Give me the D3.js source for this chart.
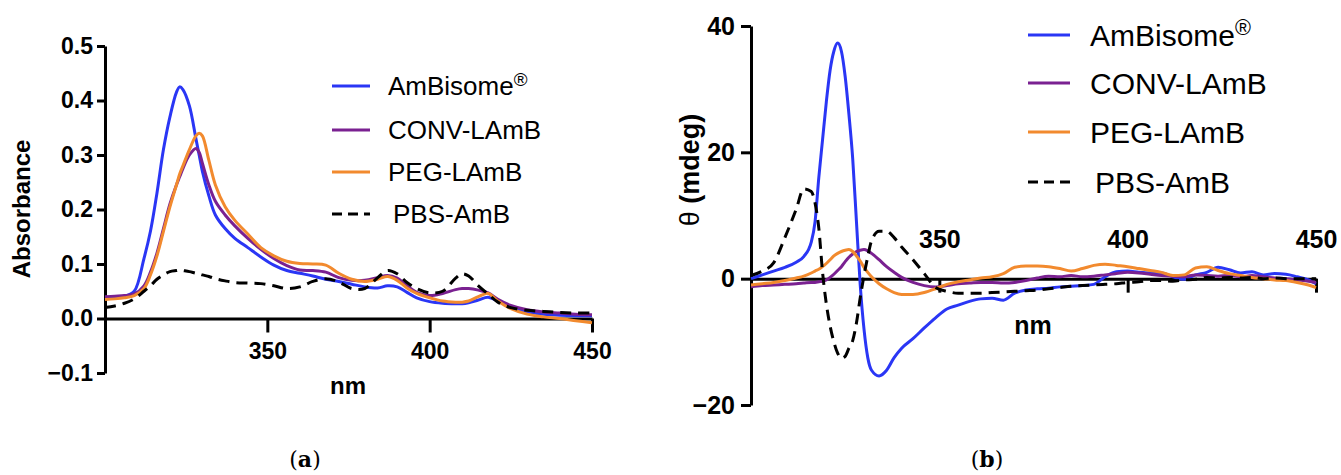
<!DOCTYPE html>
<html>
<head>
<meta charset="utf-8">
<script src="https://cdn.jsdelivr.net/npm/d3@7"></script>
<style>
  body { margin: 0; background: #fff; }
  svg { display: block; font-family: "Liberation Sans", Arial, sans-serif; }
  .axis path, .axis line { stroke: #000; stroke-width: 3; }
  .axis text { font-weight: bold; fill: #000; }
</style>
</head>
<body>
<svg width="1341" height="475"></svg>
<script>
// ---- data: (a) absorbance ----
const absNm = [300,303,306,309,312,314,316,318,320,322,323,324,326,328,329,330,332,334,337,340,344,348,352,356,360,364,368,372,376,380,384,387,390,393,396,400,404,408,410,412,415,418,421,425,430,435,440,445,450];
const absAmBisome = [0.038,0.039,0.041,0.05,0.11,0.16,0.23,0.31,0.37,0.415,0.425,0.42,0.39,0.33,0.30,0.27,0.225,0.19,0.165,0.147,0.13,0.113,0.098,0.088,0.083,0.078,0.072,0.068,0.063,0.058,0.056,0.06,0.058,0.048,0.038,0.031,0.028,0.027,0.027,0.029,0.034,0.039,0.032,0.02,0.012,0.008,0.006,0.005,0.005];
const absConv = [0.04,0.041,0.042,0.045,0.06,0.085,0.12,0.165,0.21,0.245,0.26,0.275,0.3,0.312,0.305,0.285,0.245,0.215,0.19,0.17,0.147,0.127,0.11,0.097,0.089,0.088,0.085,0.075,0.07,0.07,0.075,0.079,0.074,0.06,0.048,0.042,0.046,0.053,0.055,0.055,0.052,0.047,0.035,0.024,0.016,0.012,0.01,0.008,0.007];
const absPeg = [0.035,0.036,0.038,0.042,0.055,0.08,0.115,0.16,0.205,0.245,0.265,0.28,0.31,0.335,0.34,0.335,0.29,0.245,0.205,0.18,0.155,0.13,0.115,0.105,0.101,0.1,0.098,0.083,0.072,0.068,0.072,0.077,0.07,0.056,0.046,0.038,0.032,0.03,0.03,0.032,0.04,0.046,0.032,0.018,0.008,0.003,0.0,-0.004,-0.008];
const absPbs = [0.02,0.023,0.028,0.036,0.05,0.06,0.072,0.08,0.086,0.088,0.089,0.088,0.086,0.083,0.082,0.08,0.077,0.073,0.069,0.066,0.065,0.064,0.06,0.055,0.058,0.068,0.073,0.067,0.055,0.055,0.075,0.088,0.082,0.066,0.055,0.047,0.05,0.074,0.082,0.078,0.06,0.045,0.03,0.02,0.015,0.013,0.011,0.01,0.01];

// ---- data: (b) circular dichroism ----
const cdNm = [300,303,306,309,312,314,316,317,318,319,320,321,322,323,324,325,326,327,328,329,330,331,332,334,336,338,340,343,346,349,352,355,358,361,364,367,370,373,376,379,382,385,388,391,394,397,400,403,406,409,412,415,418,421,424,427,430,433,436,439,442,445,448,450];
const cdAmBisome = [0.0,0.6,1.2,1.8,2.6,3.5,5.8,9,16,22,28,33,36,37.3,36,32,26,19,9,-1,-8,-12.5,-14.5,-15.4,-14.5,-12.5,-11,-9.5,-7.8,-6.2,-4.8,-4.2,-3.6,-3.2,-3.1,-3.4,-2.3,-1.8,-1.6,-1.5,-1.3,-1.2,-1.1,-0.9,0.3,1.1,1.2,1.0,0.9,0.9,0.3,-0.1,0.6,1.0,1.8,1.4,0.9,1.1,0.6,0.8,0.7,0.3,-0.2,-0.8];
const cdConv = [-1.3,-1.1,-1.0,-0.9,-0.8,-0.7,-0.6,-0.6,-0.5,-0.4,-0.2,0.2,0.7,1.3,1.9,2.7,3.4,3.9,4.3,4.5,4.6,4.4,4.0,3.0,1.9,1.0,0.2,-0.6,-1.1,-1.3,-1.1,-0.8,-0.7,-0.6,-0.6,-0.7,-0.6,-0.3,0.1,0.4,0.3,0.5,0.3,0.4,0.6,0.8,1.0,0.9,0.7,0.5,0.4,0.3,0.6,0.5,0.4,0.5,0.3,0.5,0.3,0.1,0.0,-0.2,-0.4,-0.6];
const cdPeg = [-1.0,-0.8,-0.6,-0.3,0.1,0.4,0.9,1.2,1.5,1.9,2.4,3.0,3.6,4.0,4.3,4.5,4.6,4.3,3.6,2.8,1.8,1.0,0.3,-0.8,-1.6,-2.2,-2.5,-2.5,-2.2,-1.6,-0.9,-0.5,-0.2,0.1,0.3,0.8,1.8,2.0,2.0,1.9,1.6,1.2,1.6,2.1,2.3,2.1,1.9,1.6,1.3,1.0,0.5,0.6,1.7,1.9,1.3,0.8,0.5,0.2,0.0,-0.2,-0.3,-0.6,-1.0,-1.4];
const cdPbs = [0.5,1.2,2.5,6.5,11,14.2,13.8,12,8,1,-4,-7.5,-10,-11.8,-12.6,-12.3,-11,-9.8,-7,-3,0.5,3.5,6,7.5,7.5,6.5,5,3,0.8,-1.4,-2.0,-2.3,-2.3,-2.3,-2.2,-2.1,-2.0,-1.9,-1.8,-1.6,-1.4,-1.2,-1.1,-1.0,-0.9,-0.8,-0.6,-0.5,-0.3,-0.3,-0.4,-0.2,-0.1,0.2,0.1,0.2,0.1,0.2,0.0,0.1,0.0,0.0,0.0,0.0];

const seriesNames = ['AmBisome', 'CONV-LAmB', 'PEG-LAmB', 'PBS-AmB'];
const seriesColors = ['#2a36f5', '#7a2191', '#f28a2e', '#000000'];
const absTicksY = [-0.1, 0, 0.1, 0.2, 0.3, 0.4, 0.5];
const cdTicksY = [-20, 0, 20, 40];
const nmTicks = [350, 400, 450];

const svg = d3.select('svg');

function drawPanel(opts) {
    const x = d3.scaleLinear().domain([300, 450]).range(opts.xRange);
    const y = d3.scaleLinear().domain(opts.yDomain).range(opts.yRange);
    const g = svg.append('g');

    // y axis
    g.append('g')
        .attr('class', 'axis')
        .attr('transform', `translate(${opts.xRange[0]},0)`)
        .call(d3.axisLeft(y).tickValues(opts.yTicks).tickSize(opts.yTickSize)
            .tickSizeOuter(0).tickPadding(opts.yPad).tickFormat(opts.yFormat))
        .selectAll('text').style('font-size', opts.tickFont + 'px');

    // x axis on zero line
    const xa = g.append('g')
        .attr('class', 'axis')
        .attr('transform', `translate(0,${y(0)})`)
        .call(d3.axisBottom(x).tickValues(nmTicks).tickSize(14).tickSizeOuter(0)
            .tickFormat(d3.format('d')));
    xa.selectAll('text')
        .style('font-size', opts.tickFont + 'px')
        .attr('y', opts.xLabelY)
        .attr('dy', 0);

    const line = d3.line()
        .x((d, i) => x(opts.nm[i]))
        .y(d => y(d))
        .curve(opts.curve);

    opts.values.forEach((vals, i) => {
        g.append('path')
            .datum(vals)
            .attr('fill', 'none')
            .attr('stroke', seriesColors[i])
            .attr('stroke-width', 3)
            .attr('stroke-dasharray', i === 3 ? '11,7' : null)
            .attr('d', line);
    });

    // legend
    const lg = g.append('g');
    seriesNames.forEach((name, i) => {
        const ly = opts.legY[i];
        lg.append('line')
            .attr('x1', opts.legX[0]).attr('x2', opts.legX[1])
            .attr('y1', ly).attr('y2', ly)
            .attr('stroke', seriesColors[i])
            .attr('stroke-width', 3)
            .attr('stroke-dasharray', i === 3 ? '10,6' : null);
        const t = lg.append('text')
            .attr('x', opts.legTextX + (i === 3 ? 5 : 0))
            .attr('y', ly)
            .attr('dy', '0.36em')
            .style('font-size', opts.legFont + 'px')
            .text(name);
        if (i === 0) {
            t.append('tspan').attr('dy', '-0.5em').style('font-size', '0.72em').text('®');
        }
    });
    return { x, y };
}

drawPanel({
    xRange: [105, 592], yDomain: [-0.1, 0.5], yRange: [373, 46],
    yTicks: absTicksY, yTickSize: 8, yPad: 4, yFormat: d3.format('.1f'),
    tickFont: 23, xLabelY: 40, nm: absNm,
    values: [absAmBisome, absConv, absPeg, absPbs],
    curve: d3.curveCatmullRom,
    legX: [332, 370], legY: [86, 130, 172, 214], legTextX: 388, legFont: 26
});

drawPanel({
    xRange: [751, 1316], yDomain: [-20, 40], yRange: [405, 26],
    yTicks: cdTicksY, yTickSize: 10, yPad: 6, yFormat: d3.format('d'),
    tickFont: 25, xLabelY: -31, nm: cdNm,
    values: [cdAmBisome, cdConv, cdPeg, cdPbs],
    curve: d3.curveMonotoneX,
    legX: [1028, 1070], legY: [35, 83, 132, 182], legTextX: 1090, legFont: 30
});

// axis titles
svg.append('text')
    .attr('transform', 'translate(30,209) rotate(-90)')
    .attr('text-anchor', 'middle')
    .style('font-size', '24px').style('font-weight', 'bold')
    .text('Absorbance');
svg.append('text')
    .attr('x', 348).attr('y', 394)
    .attr('text-anchor', 'middle')
    .style('font-size', '24px').style('font-weight', 'bold')
    .text('nm');
const th = svg.append('text')
    .attr('transform', 'translate(699,170) rotate(-90)')
    .attr('text-anchor', 'middle')
    .style('font-size', '27px');
th.append('tspan').text('θ ');
th.append('tspan').style('font-weight', 'bold').text('(mdeg)');
svg.append('text')
    .attr('x', 1033).attr('y', 334)
    .attr('text-anchor', 'middle')
    .style('font-size', '25px').style('font-weight', 'bold')
    .text('nm');

// captions
[['a', 305], ['b', 987]].forEach(([c, cx]) => {
    const t = svg.append('text')
        .attr('x', cx).attr('y', 467)
        .attr('text-anchor', 'middle')
        .style('font-family', '"DejaVu Serif", "Liberation Serif", serif')
        .style('font-size', '22px');
    t.append('tspan').text('(');
    t.append('tspan').style('font-weight', 'bold').text(c);
    t.append('tspan').text(')');
});
</script>
</body>
</html>
